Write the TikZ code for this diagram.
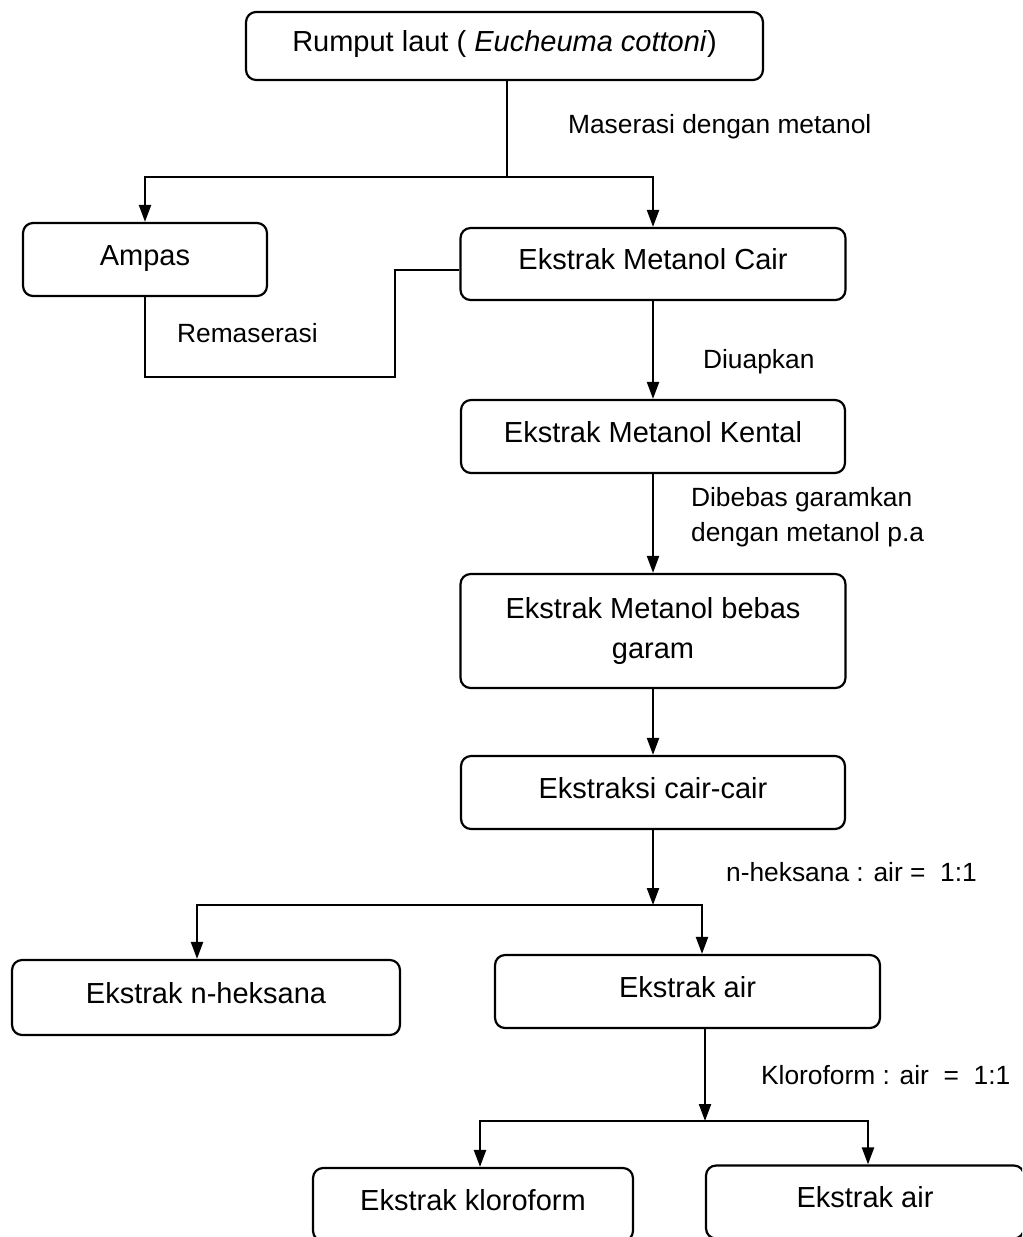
\documentclass[tikz,border=0pt]{standalone}
\usepackage{fontspec}
\setmainfont{Liberation Sans}
\usetikzlibrary{arrows.meta,positioning}

\begin{document}
\begin{tikzpicture}[x=0.02cm, y=-0.02cm, line width=1.25pt,
  >={Triangle[length=3.4mm,width=2.4mm]},
  box/.style={draw, rounded corners=0.2cm, minimum height=1.46cm, font=\fontsize{16.5}{22.5}\selectfont, text height=0.42cm, text depth=0.2cm},
  lbl/.style={anchor=west, align=left, inner sep=0pt, font=\fontsize{15}{20}\selectfont}]
\useasboundingbox (0,0) rectangle (1022,1237);
\clip (0,0) rectangle (1022,1237);

\node (rumput) at (504.5,46) [box, minimum width=10.34cm, minimum height=1.36cm] {Rumput laut ( \textit{Eucheuma cottoni})};
\node (ampas) at (145,259.5) [box, minimum width=4.88cm] {Ampas};
\node (cair) at (653,264) [box, minimum width=7.7cm, minimum height=1.44cm] {Ekstrak Metanol Cair};
\node (kental) at (653,436.5) [box, minimum width=7.68cm] {Ekstrak Metanol Kental};
\node (bebas) at (653,631) [box, minimum width=7.7cm, minimum height=2.28cm, align=center, text height=, text depth=] {Ekstrak Metanol bebas\\garam};
\node (ekcc) at (653,792.5) [box, minimum width=7.68cm] {Ekstraksi cair-cair};
\node (heksana) at (206,997.5) [box, minimum width=7.76cm, minimum height=1.5cm] {Ekstrak n-heksana};
\node (air) at (687.5,991.5) [box, minimum width=7.7cm] {Ekstrak air};
\node (kloro) at (473,1204.5) [box, minimum width=6.4cm] {Ekstrak kloroform};
\node (airb) at (865,1202) [box, minimum width=6.36cm] {Ekstrak air};

% maserasi
\coordinate (s1) at (507,177);
\draw (rumput.south -| s1) -- (s1);
\draw[->] (s1) -| (ampas.north);
\draw[->] (s1) -| (cair.north);
\node (lmas) at (567,127) [lbl] {Maserasi dengan metanol};

% remaserasi
\coordinate (r1) at (395,377);
\draw (ampas.south) |- (r1) |- ([yshift=-0.12cm]cair.west);
\node (lrem) at (176,333) [lbl] {Remaserasi};

\draw[->] (cair) -- (kental);
\node (luap) at (702,362) [lbl] {Diuapkan};
\draw[->] (kental) -- (bebas);
\node (lbeb) at (690,517) [lbl] {Dibebas garamkan\\dengan metanol p.a};
\draw[->] (bebas) -- (ekcc);

% ekstraksi cair-cair
\coordinate (s2) at (653,905);
\draw[->] (ekcc) -- (s2);
\draw[->] (s2) -| ([xshift=-0.18cm]heksana.north);
\draw[->] (s2) -| ([xshift=0.29cm]air.north);
\node (lhek) at (725,872) [lbl] {n-heksana : air =\ \ 1:1};

\coordinate (s3) at (705,1121);
\draw[->] (air.south -| s3) -- (s3);
\draw[->] (s3) -| ([xshift=0.14cm]kloro.north);
\draw[->] (s3) -| ([xshift=0.06cm]airb.north);
\node (lklo) at (760,1075) [lbl] {Kloroform : air\ \ =\ \ 1:1};
\end{tikzpicture}
\end{document}
